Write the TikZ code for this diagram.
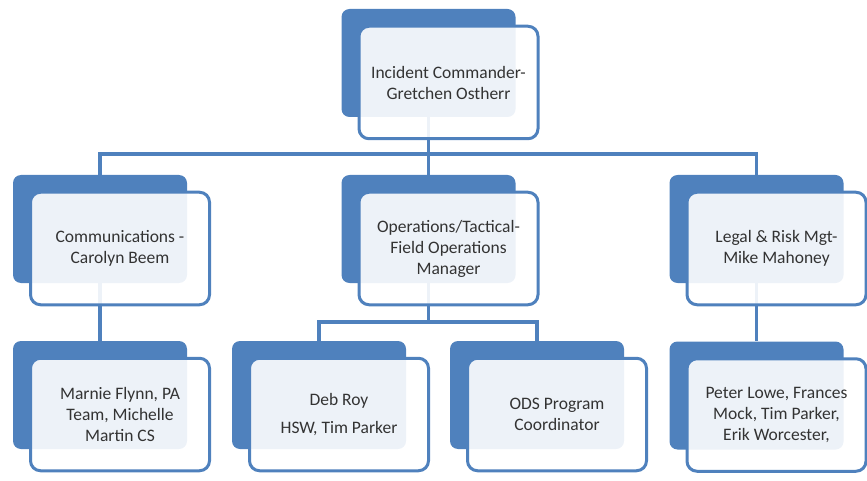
\documentclass[tikz,border=0pt]{standalone}
\usepackage{fontspec}
\setmainfont{Carlito}
\usetikzlibrary{positioning,calc}
\definecolor{orgblue}{HTML}{4F81BD}
\definecolor{orgtext}{HTML}{333333}

\tikzset{
    backbox/.style={fill=orgblue, rounded corners=8pt, minimum width=174pt, minimum height=108pt, inner sep=0pt},
    frontbox/.style={draw=orgblue, line width=3pt, fill=white, fill opacity=0.9, text opacity=1,
        rounded corners=10pt, minimum width=179pt, minimum height=112.5pt, inner sep=2pt,
        align=center, text=orgtext, font=\fontsize{17.5}{21}\selectfont},
    link/.style={draw=orgblue, line width=3.5pt}
}

\begin{document}
\begin{tikzpicture}[x=1pt, y=-1pt]
    \useasboundingbox (0,0) rectangle (867,481);

    % hintere Kästen
    \node[backbox] (icB)  at (428.5, 63) {};
    \node[backbox] (comB) at (100, 229) {};
    \node[backbox] (opsB) at (428.5, 229) {};
    \node[backbox] (legB) at (756.5, 229) {};
    \node[backbox] (marB) at (100, 395) {};
    \node[backbox] (debB) at (319, 395) {};
    \node[backbox] (odsB) at (537, 395) {};
    \node[backbox] (petB) at (756.5, 395.5) {};

    % Verbindungen
    \draw[link] (icB.south) -- ++(0,37) -| (comB.north);
    \draw[link] (icB.south) -- (opsB.north);
    \draw[link] (icB.south) -- ++(0,37) -| (legB.north);
    \draw[link] (comB.south) -- (marB.north);
    \draw[link] (opsB.south) -- ++(0,39) -| (debB.north);
    \draw[link] (opsB.south) -- ++(0,39) -| (odsB.north);
    \draw[link] (legB.south) -- (petB.north);

    % vordere Kästen mit Text
    \node[frontbox] (ic)  at ($(icB)+(20,19.5)$)  {Incident Commander-\\Gretchen Ostherr};
    \node[frontbox] (com) at ($(comB)+(20,19.5)$) {Communications -\\Carolyn Beem};
    \node[frontbox] (ops) at ($(opsB)+(20,19.5)$) {Operations/Tactical-\\Field Operations\\Manager};
    \node[frontbox] (leg) at ($(legB)+(20,19.5)$) {Legal \& Risk Mgt-\\Mike Mahoney};
    \node[frontbox] (mar) at ($(marB)+(20,19.5)$) {Marnie Flynn, PA\\Team, Michelle\\Martin CS};
    \node[frontbox] (deb) at ($(debB)+(20,19.5)$) {Deb Roy\\[7pt]HSW, Tim Parker};
    \node[frontbox] (ods) at ($(odsB)+(20,19.5)$) {ODS Program\\Coordinator};
    \node[frontbox] (pet) at ($(petB)+(20,19.5)$) {Peter Lowe, Frances\\Mock, Tim Parker,\\Erik Worcester,};
\end{tikzpicture}
\end{document}
